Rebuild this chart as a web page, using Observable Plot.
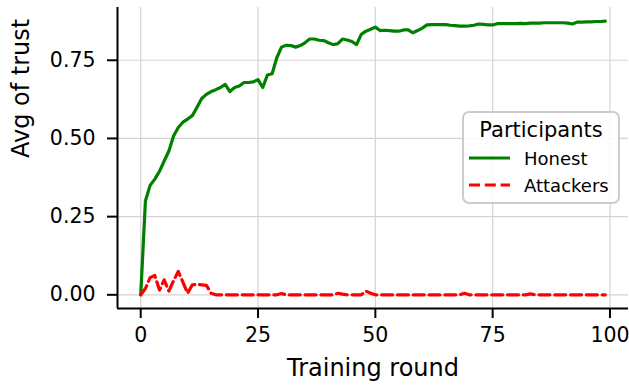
<!DOCTYPE html>
<html>
<head>
<meta charset="utf-8">
<script src="https://cdn.jsdelivr.net/npm/d3@7"></script>
<script src="https://cdn.jsdelivr.net/npm/@observablehq/plot@0.6"></script>
<style>
  html, body { margin: 0; padding: 0; background: white; }
  #chart { width: 629px; height: 390px; }
</style>
</head>
<body>
<div id="chart"></div>
<script>
// Average trust per training round, by participant group
const rounds = d3.range(100);

const honest = [
  0.000, 0.300, 0.350, 0.370, 0.395, 0.428, 0.460, 0.508, 0.535, 0.552,
  0.562, 0.573, 0.600, 0.628, 0.641, 0.650, 0.656, 0.663, 0.673, 0.650,
  0.663, 0.668, 0.679, 0.679, 0.681, 0.688, 0.663, 0.703, 0.707, 0.758,
  0.792, 0.798, 0.797, 0.792, 0.797, 0.806, 0.818, 0.818, 0.814, 0.813,
  0.806, 0.800, 0.803, 0.818, 0.815, 0.810, 0.800, 0.833, 0.843, 0.849,
  0.856, 0.845, 0.846, 0.845, 0.843, 0.843, 0.847, 0.847, 0.838, 0.845,
  0.853, 0.863, 0.864, 0.864, 0.864, 0.864, 0.862, 0.861, 0.859, 0.859,
  0.860, 0.862, 0.866, 0.865, 0.863, 0.863, 0.867, 0.867, 0.867, 0.867,
  0.867, 0.868, 0.867, 0.869, 0.869, 0.869, 0.870, 0.870, 0.870, 0.870,
  0.870, 0.869, 0.866, 0.872, 0.872, 0.873, 0.873, 0.874, 0.874, 0.875
];

const attackers = [
  0.000, 0.020, 0.055, 0.062, 0.015, 0.048, 0.012, 0.045, 0.075, 0.040,
  0.005, 0.032, 0.033, 0.032, 0.030, 0.005, 0.000, 0.000, 0.000, 0.000,
  0.000, 0.000, 0.000, 0.000, 0.000, 0.000, 0.000, 0.000, 0.000, 0.000,
  0.004, 0.000, 0.000, 0.000, 0.000, 0.000, 0.000, 0.000, 0.000, 0.000,
  0.000, 0.000, 0.005, 0.002, 0.000, 0.000, 0.000, 0.000, 0.012, 0.005,
  0.000, 0.000, 0.000, 0.000, 0.000, 0.000, 0.000, 0.000, 0.000, 0.000,
  0.000, 0.000, 0.000, 0.000, 0.000, 0.000, 0.000, 0.000, 0.000, 0.005,
  0.000, 0.000, 0.000, 0.000, 0.000, 0.000, 0.000, 0.000, 0.000, 0.000,
  0.000, 0.000, 0.000, 0.003, 0.000, 0.000, 0.000, 0.000, 0.000, 0.000,
  0.000, 0.000, 0.000, 0.000, 0.000, 0.000, 0.000, 0.000, 0.000, 0.000
];

const xTicks = [0, 25, 50, 75, 100];
const yTicks = [0, 0.25, 0.5, 0.75];
const seriesNames = ["Honest", "Attackers"];
const seriesColors = ["green", "red"];
const legendTitle = "Participants";
const xLabel = "Training round";
const yLabel = "Avg of trust";

const honestRows = rounds.map((r, i) => ({round: r, trust: honest[i]}));
const attackerRows = rounds.map((r, i) => ({round: r, trust: attackers[i]}));

// 5% padding around the data extent on both axes
const xDomain = [-4.95, 103.95];
const yDomain = [-0.04375, 0.91875];
const dash = "11,4.8";

const plot = Plot.plot({
  width: 629,
  height: 390,
  marginLeft: 117,
  marginRight: 1,
  marginTop: 7,
  marginBottom: 82,
  style: {fontFamily: "DejaVu Sans", background: "white", color: "black", overflow: "visible"},
  x: {domain: xDomain},
  y: {domain: yDomain},
  marks: [
    Plot.gridX(xTicks, {stroke: "#d4d4d4", strokeOpacity: 1, strokeWidth: 1.2}),
    Plot.gridY(yTicks, {stroke: "#d4d4d4", strokeOpacity: 1, strokeWidth: 1.2}),
    Plot.axisX(xTicks, {tickSize: 10, tickPadding: 9, fontSize: 20.5, strokeWidth: 2, label: null, tickFormat: d => d}),
    Plot.axisY(yTicks, {tickSize: 10, tickPadding: 12, fontSize: 20.5, strokeWidth: 2, label: null, tickFormat: d3.format(".2f")}),
    Plot.ruleX([xDomain[0]], {stroke: "black", strokeWidth: 2}),
    Plot.ruleY([yDomain[0]], {stroke: "black", strokeWidth: 2}),
    Plot.line(honestRows, {x: "round", y: "trust", stroke: seriesColors[0], strokeWidth: 3.2}),
    Plot.line(attackerRows, {x: "round", y: "trust", stroke: seriesColors[1], strokeWidth: 3.2, strokeDasharray: dash}),
    Plot.text([xLabel], {text: d => d, frameAnchor: "bottom", dy: 67, fontSize: 24, fill: "black"}),
    Plot.text([yLabel], {text: d => d, frameAnchor: "left", dx: -96, rotate: -90, fontSize: 24, fill: "black"})
  ]
});

// Legend box in the upper right of the plot area
const svg = d3.select(plot);
const lg = svg.append("g").attr("font-family", "DejaVu Sans");
lg.append("rect")
  .attr("x", 463).attr("y", 112).attr("width", 156).attr("height", 91)
  .attr("rx", 6).attr("fill", "white").attr("fill-opacity", 0.85)
  .attr("stroke", "#cccccc").attr("stroke-width", 2);
lg.append("text")
  .attr("x", 541).attr("y", 137).attr("text-anchor", "middle")
  .attr("font-size", 21).attr("fill", "black").text(legendTitle);
seriesNames.forEach((name, i) => {
  const y = 158 + i * 27;
  lg.append("line")
    .attr("x1", 469).attr("x2", 510).attr("y1", y).attr("y2", y)
    .attr("stroke", seriesColors[i]).attr("stroke-width", 3.2)
    .attr("stroke-dasharray", i === 1 ? dash : null);
  lg.append("text")
    .attr("x", 524).attr("y", y + 7).attr("text-anchor", "start")
    .attr("font-size", 18).attr("fill", "black").text(name);
});

document.getElementById("chart").appendChild(plot);
</script>
</body>
</html>
